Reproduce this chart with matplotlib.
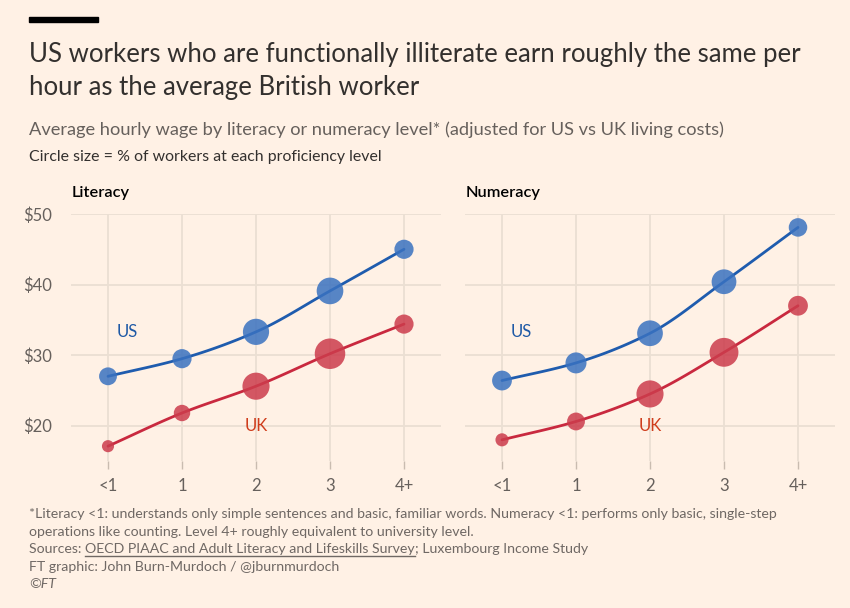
import numpy as np
import matplotlib
matplotlib.use("Agg")
from matplotlib import pyplot as plt
from matplotlib.patches import Rectangle

# Levels and wage data (USD per hour, adjusted for living costs)
levels = ["<1", "1", "2", "3", "4+"]

lit_us_wage = [27.0, 29.5, 33.3, 39.1, 45.0]
lit_uk_wage = [17.1, 21.8, 25.6, 30.2, 34.4]
num_us_wage = [26.4, 28.9, 33.1, 40.4, 48.1]
num_uk_wage = [18.0, 20.6, 24.5, 30.4, 37.0]

# Share of workers at each level (%), drives circle size
lit_us_pct = [13, 15, 28, 29, 15]
lit_uk_pct = [6, 11, 30, 38, 15]
num_us_pct = [16, 18, 27, 25, 14]
num_uk_pct = [7, 13, 30, 34, 16]

yticks = [20, 30, 40, 50]

BG = "#fff1e5"
BLUE_LINE = "#1f5cae"
BLUE_DOT = "#3a72c0"
RED_LINE = "#c9293f"
RED_DOT = "#cc3c4c"
GRID = "#ebdfd3"
GREY = "#66605c"
DARK = "#33302e"

FONT = ["Lato", "DejaVu Sans"]
plt.rcParams["font.family"] = FONT

W, H = 850, 608
fig = plt.figure(figsize=(W / 100, H / 100), dpi=100, facecolor=BG)


def fx(x):
    return x / W


def fy(y):
    return 1 - y / H


def smooth(xs, ys, n=30):
    # monotone cubic (Fritsch-Carlson) path through the points, for drawing
    xs = np.asarray(xs, float)
    ys = np.asarray(ys, float)
    h = np.diff(xs)
    d = np.diff(ys) / h
    m = np.zeros_like(ys)
    m[0], m[-1] = d[0], d[-1]
    for i in range(1, len(ys) - 1):
        if d[i - 1] * d[i] <= 0:
            m[i] = 0
        else:
            m[i] = 2 / (1 / d[i - 1] + 1 / d[i])
    px, py = [], []
    for i in range(len(h)):
        t = np.linspace(0, 1, n)
        h00 = 2 * t**3 - 3 * t**2 + 1
        h10 = t**3 - 2 * t**2 + t
        h01 = -2 * t**3 + 3 * t**2
        h11 = t**3 - t**2
        px.extend(xs[i] + t * h[i])
        py.extend(h00 * ys[i] + h10 * h[i] * m[i] + h01 * ys[i + 1] + h11 * h[i] * m[i + 1])
    return px, py


def panel(left, title, us_w, uk_w, us_p, uk_p):
    ax = fig.add_axes([fx(left), fy(461), fx(370), (461 - 214) / H])
    ax.set_facecolor("none")
    x = np.arange(len(levels))
    ax.set_xlim(-0.5, 4.5)
    ax.set_ylim(15, 50)
    for s in ax.spines.values():
        s.set_visible(False)
    ax.set_yticks(yticks)
    ax.set_xticks(x)
    ax.set_xticklabels(levels)
    ax.grid(True, color=GRID, lw=1.3, zorder=0)
    ax.set_axisbelow(True)
    ax.tick_params(axis="y", length=0, labelsize=12, labelcolor=GREY, pad=14)
    ax.tick_params(axis="x", length=6, width=1, color="#c9bcb0", labelsize=12,
                   labelcolor=GREY, pad=6, direction="out")

    for w, p, lc, dc in [(us_w, us_p, BLUE_LINE, BLUE_DOT),
                         (uk_w, uk_p, RED_LINE, RED_DOT)]:
        sx, sy = smooth(x, w)
        ax.plot(sx, sy, color=lc, lw=2, zorder=3, solid_capstyle="round")
        ax.scatter(x, w, s=np.array(p) * 12.7, color=dc, alpha=0.85,
                   lw=0, zorder=4)

    ax.text(0.26, 33.3, "US", color="#1f5aa6", fontsize=12, ha="center",
            va="center")
    ax.text(2, 20.0, "UK", color="#cf3d1c", fontsize=12, ha="center",
            va="center")
    fig.text(fx(left + 1), fy(197), title, fontsize=11.8, color="black",
             fontweight="semibold", ha="left", va="baseline")
    return ax


panel(71, "Literacy", lit_us_wage, lit_uk_wage, lit_us_pct, lit_uk_pct)
panel(465, "Numeracy", num_us_wage, num_uk_wage, num_us_pct, num_uk_pct)

for ax in fig.axes:
    ax.set_yticklabels(["$%d" % v for v in yticks] if ax is fig.axes[0] else [])

# header
fig.patches.append(Rectangle((fx(29), fy(22)), fx(69), 5 / H, color="black",
                             transform=fig.transFigure, figure=fig))
fig.text(fx(29), fy(62), "US workers who are functionally illiterate earn roughly the same per",
         fontsize=18.5, color=DARK, va="baseline")
fig.text(fx(29), fy(95), "hour as the average British worker",
         fontsize=18.5, color=DARK, va="baseline")
fig.text(fx(29), fy(135),
         "Average hourly wage by literacy or numeracy level* (adjusted for US vs UK living costs)",
         fontsize=13.15, color=GREY, va="baseline")
fig.text(fx(29), fy(161), "Circle size = % of workers at each proficiency level",
         fontsize=11.4, color=DARK, va="baseline")

# footnotes
fs = 10.15
FOOT = "#6f6864"
fig.text(fx(29), fy(518),
         "*Literacy <1: understands only simple sentences and basic, familiar words. "
         "Numeracy <1: performs only basic, single-step",
         fontsize=fs, color=FOOT, va="baseline")
fig.text(fx(29), fy(536),
         "operations like counting. Level 4+ roughly equivalent to university level.",
         fontsize=fs, color=FOOT, va="baseline")

renderer = fig.canvas.get_renderer()
t1 = fig.text(fx(29), fy(553), "Sources: ", fontsize=fs, color=FOOT, va="baseline")
bb = t1.get_window_extent(renderer)
t2 = fig.text(bb.x1 / W, fy(553), "OECD PIAAC and Adult Literacy and Lifeskills Survey",
              fontsize=fs, color=FOOT, va="baseline")
bb2 = t2.get_window_extent(renderer)
fig.add_artist(plt.Line2D([bb2.x0 / W, bb2.x1 / W], [fy(556), fy(556)],
                          color=FOOT, lw=1, transform=fig.transFigure))
fig.text(bb2.x1 / W, fy(553), "; Luxembourg Income Study", fontsize=fs, color=FOOT,
         va="baseline")
fig.text(fx(29), fy(571), "FT graphic: John Burn-Murdoch / @jburnmurdoch",
         fontsize=fs, color=FOOT, va="baseline")
fig.text(fx(29), fy(588), "©FT", fontsize=fs, color=FOOT, va="baseline",
         style="italic")

fig.savefig("out.png", dpi=100, facecolor=BG)
